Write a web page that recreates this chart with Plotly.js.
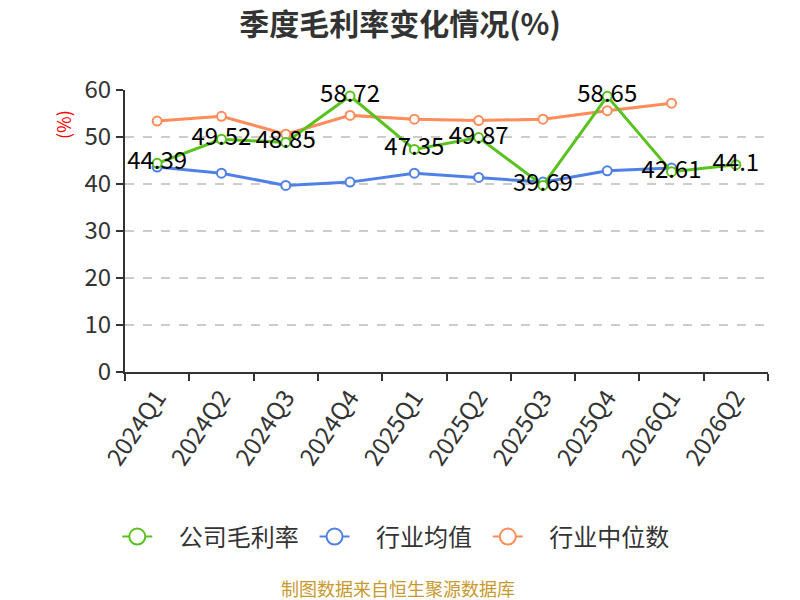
<!DOCTYPE html>
<html>
<head>
<meta charset="utf-8">
<script src="https://cdn.plot.ly/plotly-3.0.1.min.js"></script>
<style>
  html, body { margin: 0; padding: 0; background: #fff; }
  #myChart { width: 800px; height: 600px; }
</style>
</head>
<body>
<div id="myChart"></div>
<script>
// 季度
const quarters = ["2024Q1", "2024Q2", "2024Q3", "2024Q4", "2025Q1", "2025Q2", "2025Q3", "2025Q4", "2026Q1", "2026Q2"];
// 公司毛利率
const companyMargin = [44.39, 49.52, 48.85, 58.72, 47.35, 49.87, 39.69, 58.65, 42.61, 44.1];
// 行业均值 (只到2026Q1)
const industryAvg = [43.6, 42.3, 39.7, 40.4, 42.3, 41.4, 40.4, 42.8, 43.4];
// 行业中位数
const industryMedian = [53.4, 54.4, 50.6, 54.6, 53.8, 53.5, 53.8, 55.6, 57.2];
const yTicks = [0, 10, 20, 30, 40, 50, 60];

const FONT = "'Noto Sans CJK SC', 'Noto Sans', sans-serif";

var mkLine = (name, y, color, withText) => {
  var tr = {
    x: quarters.slice(0, y.length),
    y: y,
    name: name,
    type: "scatter",
    mode: withText ? "lines+markers+text" : "lines+markers",
    line: { color: color, width: 3 },
    marker: { size: 9, color: "#ffffff", line: { color: color, width: 2 } },
    cliponaxis: false,
    showlegend: false,
  };
  if (withText) {
    tr.text = y.map((v) => String(v));
    tr.textposition = "middle center";
    tr.textfont = { family: FONT, size: 24, color: "#000000" };
  }
  return tr;
};

// 只用于图例的空线（图例里圆圈更大）
var mkLegend = (name, color, rank) => {
  return {
    x: [null],
    y: [null],
    name: "\u00a0\u00a0\u00a0\u00a0" + name + "\u00a0\u00a0",
    type: "scatter",
    mode: "lines+markers",
    line: { color: color, width: 2 },
    marker: { size: 16, color: "#ffffff", line: { color: color, width: 2 } },
    showlegend: true,
    legendrank: rank,
  };
};

var data = [
  mkLine("行业均值", industryAvg, "#4f80e6", false),
  mkLine("行业中位数", industryMedian, "#ff8c5a", false),
  mkLine("公司毛利率", companyMargin, "#5ac21e", true),
  mkLegend("公司毛利率", "#5ac21e", 1),
  mkLegend("行业均值", "#4f80e6", 2),
  mkLegend("行业中位数", "#ff8c5a", 3),
];

var layout = {
  width: 800,
  height: 600,
  margin: { l: 125, r: 32, t: 90, b: 228, autoexpand: false },
  paper_bgcolor: "#ffffff",
  plot_bgcolor: "#ffffff",
  font: { family: FONT, color: "#333333" },
  showlegend: true,
  title: {
    text: "<b>季度毛利率变化情况(%)</b>",
    font: { family: FONT, size: 30, color: "#333333" },
    x: 0.5,
    xanchor: "center",
    y: 0.96,
    yanchor: "middle",
  },
  xaxis: {
    type: "category",
    categoryorder: "array",
    categoryarray: quarters,
    range: [-0.5, quarters.length - 0.5],
    tickson: "boundaries",
    ticks: "outside",
    ticklen: 7,
    tickwidth: 2,
    tickcolor: "#333333",
    showline: true,
    linecolor: "#333333",
    linewidth: 2,
    showgrid: false,
    zeroline: false,
    tickangle: -56,
    tickfont: { family: FONT, size: 24, color: "#333333" },
    fixedrange: true,
  },
  yaxis: {
    range: [0, 60],
    tickvals: yTicks,
    ticktext: yTicks.map(String),
    ticks: "outside",
    ticklen: 7,
    tickwidth: 2,
    tickcolor: "#333333",
    showline: true,
    linecolor: "#333333",
    linewidth: 2,
    showgrid: true,
    gridcolor: "#cccccc",
    gridwidth: 1.5,
    griddash: "dash",
    zeroline: false,
    tickfont: { family: FONT, size: 24, color: "#333333" },
    fixedrange: true,
  },
  legend: {
    orientation: "h",
    x: -0.012,
    xanchor: "left",
    y: -0.585,
    yanchor: "middle",
    font: { family: FONT, size: 24, color: "#333333" },
    traceorder: "normal",
  },
  annotations: [
    {
      text: "(%)",
      xref: "paper",
      yref: "paper",
      x: -0.0964,
      y: 0.876,
      xanchor: "center",
      yanchor: "middle",
      textangle: -90,
      showarrow: false,
      font: { family: FONT, size: 18, color: "#ff0000" },
    },
    {
      text: "制图数据来自恒生聚源数据库",
      xref: "paper",
      yref: "paper",
      x: 0.425,
      y: -0.766,
      xanchor: "center",
      yanchor: "middle",
      showarrow: false,
      font: { family: FONT, size: 18, color: "#c8992e" },
    },
  ],
};

Plotly.newPlot("myChart", data, layout, { displayModeBar: false, staticPlot: true });
</script>
</body>
</html>
